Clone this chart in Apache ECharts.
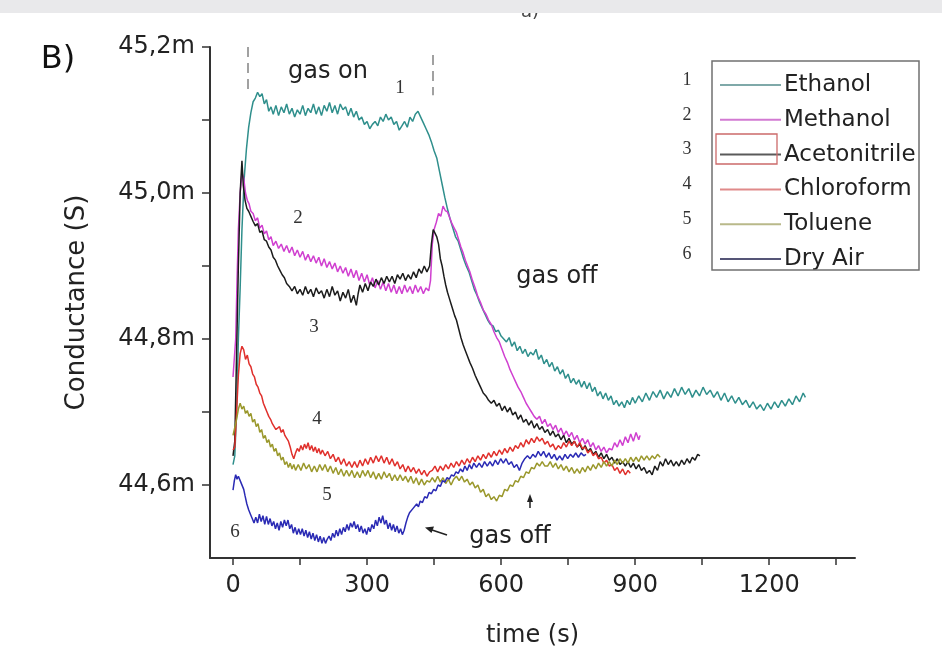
<!DOCTYPE html>
<html>
<head>
<meta charset="utf-8">
<script src="https://cdn.jsdelivr.net/npm/echarts@6/dist/echarts.min.js"></script>
<style>html,body{margin:0;padding:0;background:#fff;}#chart{width:942px;height:654px;}</style>
</head>
<body>
<div id="chart"></div>
<script>
// ---- data (time in s, conductance in mS) ----
const seriesNames = ['Ethanol','Methanol','Acetonitrile','Chloroform','Toluene','Dry Air'];
const xLabelValues = [0,300,600,900,1200];
const xTickValues = [0,150,300,450,600,750,900,1050,1200,1350];
const yLabelValues = [44.6,44.8,45.0,45.2];
const yTickValues = [44.6,44.7,44.8,44.9,45.0,45.1,45.2];
const gasMarks = [34,446];

const ethanolData = [[0,44.628],[4,44.64],[8,44.70],[12,44.80],[16,44.87],[20,44.95],[25,45.02],[30,45.06],[35,45.09],[40,45.11],[45,45.125],[50,45.13],[55,45.138],[60,45.132],[65,45.136],[70,45.122],[75,45.128],[80,45.112],[85,45.118],[90,45.108],[96,45.12],[102,45.106],[108,45.118],[114,45.11],[120,45.122],[126,45.108],[132,45.116],[138,45.104],[144,45.114],[150,45.108],[156,45.12],[162,45.106],[168,45.116],[174,45.11],[180,45.122],[186,45.108],[192,45.118],[198,45.106],[204,45.12],[210,45.112],[216,45.124],[222,45.11],[228,45.12],[234,45.108],[240,45.122],[246,45.114],[252,45.118],[258,45.106],[264,45.116],[270,45.104],[276,45.112],[282,45.1],[288,45.104],[294,45.094],[300,45.098],[306,45.088],[312,45.094],[318,45.098],[324,45.092],[330,45.104],[336,45.098],[342,45.108],[348,45.1],[354,45.104],[360,45.094],[366,45.098],[372,45.086],[378,45.092],[384,45.098],[390,45.09],[396,45.104],[402,45.098],[408,45.108],[414,45.112],[420,45.104],[426,45.096],[432,45.088],[438,45.08],[444,45.07],[450,45.058],[456,45.048],[462,45.03],[468,45.012],[474,44.994],[480,44.978],[486,44.964],[492,44.952],[498,44.94],[504,44.934],[510,44.922],[516,44.91],[522,44.9],[528,44.892],[534,44.88],[540,44.868],[546,44.86],[552,44.85],[558,44.842],[564,44.834],[570,44.826],[576,44.82],[582,44.818],[588,44.81],[594,44.812],[600,44.804],[606,44.8],[612,44.796],[618,44.802],[624,44.79],[630,44.796],[636,44.784],[642,44.79],[648,44.78],[654,44.786],[660,44.776],[666,44.782],[672,44.778],[678,44.786],[684,44.772],[690,44.778],[696,44.766],[702,44.772],[708,44.762],[714,44.768],[720,44.756],[726,44.762],[732,44.752],[738,44.758],[744,44.746],[750,44.752],[756,44.74],[762,44.746],[768,44.738],[774,44.744],[780,44.734],[786,44.742],[792,44.732],[798,44.74],[804,44.728],[810,44.734],[816,44.722],[822,44.728],[828,44.718],[834,44.726],[840,44.716],[846,44.722],[852,44.71],[858,44.716],[864,44.708],[870,44.714],[876,44.706],[882,44.716],[888,44.71],[894,44.72],[900,44.712],[908,44.722],[916,44.714],[924,44.726],[932,44.716],[940,44.728],[948,44.72],[956,44.73],[964,44.718],[972,44.728],[980,44.72],[988,44.732],[996,44.722],[1004,44.734],[1012,44.724],[1020,44.732],[1028,44.72],[1036,44.73],[1044,44.722],[1052,44.734],[1060,44.724],[1068,44.73],[1076,44.72],[1084,44.728],[1092,44.716],[1100,44.726],[1108,44.714],[1116,44.722],[1124,44.712],[1132,44.72],[1140,44.71],[1148,44.716],[1156,44.706],[1164,44.714],[1172,44.704],[1180,44.71],[1188,44.702],[1196,44.712],[1204,44.704],[1212,44.714],[1220,44.706],[1228,44.716],[1236,44.708],[1244,44.718],[1252,44.71],[1260,44.722],[1268,44.714],[1276,44.726],[1281,44.72]];

const methanolData = [[0,44.748],[3,44.75],[6,44.80],[9,44.88],[12,44.95],[16,45.0],[20,45.028],[24,45.02],[28,45.0],[32,44.99],[36,44.985],[40,44.975],[45,44.972],[50,44.962],[55,44.966],[60,44.952],[65,44.956],[70,44.944],[75,44.948],[80,44.936],[85,44.94],[90,44.928],[96,44.934],[102,44.924],[108,44.93],[114,44.92],[120,44.928],[126,44.918],[132,44.926],[138,44.914],[144,44.922],[150,44.912],[156,44.92],[162,44.908],[168,44.916],[174,44.906],[180,44.914],[186,44.904],[192,44.912],[198,44.9],[204,44.91],[210,44.898],[216,44.906],[222,44.896],[228,44.904],[234,44.892],[240,44.9],[246,44.89],[252,44.898],[258,44.886],[264,44.896],[270,44.884],[276,44.894],[282,44.88],[288,44.89],[294,44.878],[300,44.888],[306,44.874],[312,44.884],[318,44.87],[324,44.88],[330,44.868],[336,44.878],[342,44.866],[348,44.876],[354,44.864],[360,44.874],[366,44.862],[372,44.872],[378,44.862],[384,44.874],[390,44.864],[396,44.872],[402,44.862],[408,44.874],[414,44.864],[420,44.872],[426,44.862],[432,44.87],[438,44.866],[442,44.88],[446,44.93],[450,44.95],[455,44.96],[460,44.972],[465,44.968],[470,44.982],[475,44.976],[480,44.974],[485,44.966],[490,44.958],[495,44.952],[500,44.946],[505,44.936],[510,44.926],[515,44.918],[520,44.908],[525,44.9],[530,44.892],[536,44.88],[542,44.87],[548,44.858],[554,44.85],[560,44.84],[566,44.834],[572,44.826],[578,44.82],[584,44.81],[590,44.802],[596,44.796],[602,44.786],[608,44.776],[614,44.768],[620,44.758],[626,44.75],[632,44.742],[638,44.734],[644,44.728],[650,44.72],[656,44.712],[662,44.706],[668,44.7],[674,44.694],[680,44.69],[686,44.694],[692,44.684],[698,44.69],[704,44.68],[710,44.684],[716,44.676],[722,44.682],[728,44.672],[734,44.678],[740,44.668],[746,44.674],[752,44.666],[758,44.672],[764,44.662],[770,44.668],[776,44.658],[782,44.664],[788,44.656],[794,44.662],[800,44.652],[806,44.658],[812,44.648],[818,44.654],[824,44.646],[830,44.652],[836,44.644],[842,44.65],[848,44.648],[854,44.658],[860,44.652],[866,44.662],[872,44.654],[878,44.666],[884,44.658],[890,44.67],[896,44.66],[902,44.672],[908,44.662],[911,44.668]];

const acetonitrileData = [[0,44.64],[4,44.66],[8,44.78],[12,44.9],[16,45.0],[20,45.044],[23,45.01],[27,44.99],[31,44.979],[35,44.975],[40,44.968],[45,44.961],[50,44.955],[55,44.958],[60,44.946],[65,44.948],[70,44.936],[75,44.934],[80,44.926],[85,44.922],[90,44.912],[95,44.908],[100,44.9],[105,44.894],[110,44.888],[115,44.884],[120,44.876],[126,44.872],[132,44.866],[138,44.872],[144,44.862],[150,44.868],[156,44.86],[162,44.872],[168,44.862],[174,44.868],[180,44.858],[186,44.87],[192,44.862],[198,44.866],[204,44.856],[210,44.868],[216,44.858],[222,44.872],[228,44.86],[234,44.866],[240,44.852],[246,44.864],[252,44.856],[258,44.868],[264,44.85],[270,44.86],[276,44.846],[280,44.862],[284,44.874],[290,44.864],[296,44.876],[302,44.866],[308,44.878],[314,44.872],[320,44.882],[326,44.874],[332,44.884],[338,44.876],[344,44.886],[350,44.878],[356,44.886],[362,44.876],[368,44.888],[374,44.882],[380,44.89],[386,44.88],[392,44.888],[398,44.882],[404,44.892],[410,44.884],[416,44.896],[422,44.89],[428,44.9],[434,44.892],[440,44.9],[444,44.93],[448,44.95],[452,44.945],[456,44.94],[460,44.93],[464,44.91],[468,44.9],[472,44.886],[476,44.874],[480,44.864],[484,44.856],[488,44.848],[492,44.84],[496,44.832],[500,44.826],[505,44.814],[510,44.802],[515,44.792],[520,44.784],[525,44.776],[530,44.768],[536,44.76],[542,44.75],[548,44.742],[554,44.734],[560,44.726],[566,44.722],[572,44.716],[578,44.712],[584,44.716],[590,44.708],[596,44.712],[602,44.702],[608,44.708],[614,44.7],[620,44.706],[626,44.696],[632,44.7],[638,44.69],[644,44.696],[650,44.686],[656,44.69],[662,44.682],[668,44.688],[674,44.678],[680,44.684],[686,44.676],[692,44.68],[698,44.672],[704,44.676],[710,44.668],[716,44.674],[722,44.666],[728,44.67],[734,44.662],[740,44.668],[746,44.658],[752,44.664],[758,44.656],[764,44.66],[770,44.652],[776,44.656],[782,44.648],[788,44.654],[794,44.646],[800,44.65],[806,44.642],[812,44.646],[818,44.638],[824,44.644],[830,44.636],[836,44.642],[842,44.634],[848,44.638],[854,44.63],[860,44.636],[866,44.628],[872,44.632],[878,44.626],[884,44.632],[890,44.624],[896,44.63],[902,44.622],[908,44.628],[914,44.62],[920,44.624],[926,44.616],[932,44.62],[938,44.614],[944,44.626],[950,44.62],[956,44.632],[962,44.626],[968,44.636],[974,44.628],[980,44.634],[986,44.626],[992,44.632],[998,44.626],[1004,44.634],[1010,44.628],[1016,44.636],[1022,44.63],[1028,44.638],[1034,44.634],[1040,44.642],[1045,44.64]];

const chloroformData = [[0,44.648],[4,44.652],[8,44.7],[12,44.75],[16,44.78],[20,44.79],[24,44.785],[28,44.772],[32,44.778],[36,44.766],[40,44.762],[44,44.752],[48,44.748],[52,44.738],[56,44.734],[60,44.726],[64,44.722],[68,44.712],[72,44.706],[76,44.7],[80,44.694],[84,44.69],[88,44.684],[92,44.68],[96,44.676],[100,44.674],[104,44.68],[108,44.672],[112,44.676],[116,44.668],[120,44.666],[124,44.66],[128,44.652],[132,44.642],[136,44.636],[140,44.644],[144,44.65],[148,44.646],[152,44.654],[156,44.648],[160,44.656],[164,44.65],[168,44.658],[172,44.648],[176,44.654],[180,44.646],[184,44.652],[188,44.644],[192,44.65],[196,44.642],[200,44.648],[206,44.64],[212,44.646],[218,44.636],[224,44.642],[230,44.632],[236,44.638],[242,44.628],[248,44.636],[254,44.626],[260,44.632],[266,44.624],[272,44.632],[278,44.624],[284,44.634],[290,44.626],[296,44.636],[302,44.628],[308,44.638],[314,44.63],[320,44.64],[326,44.632],[332,44.64],[338,44.63],[344,44.638],[350,44.628],[356,44.636],[362,44.626],[368,44.632],[374,44.622],[380,44.628],[386,44.618],[392,44.626],[398,44.618],[404,44.624],[410,44.616],[416,44.622],[422,44.614],[428,44.62],[434,44.612],[440,44.618],[446,44.62],[452,44.626],[458,44.618],[464,44.626],[470,44.62],[476,44.628],[482,44.622],[488,44.63],[494,44.624],[500,44.632],[506,44.626],[512,44.634],[518,44.628],[524,44.636],[530,44.63],[536,44.638],[542,44.632],[548,44.64],[554,44.634],[560,44.642],[566,44.636],[572,44.644],[578,44.638],[584,44.646],[590,44.64],[596,44.648],[602,44.642],[608,44.65],[614,44.644],[620,44.652],[626,44.646],[632,44.654],[638,44.65],[644,44.658],[650,44.652],[656,44.662],[662,44.656],[668,44.664],[674,44.658],[680,44.666],[686,44.66],[692,44.664],[698,44.656],[704,44.66],[710,44.652],[716,44.656],[722,44.648],[728,44.654],[734,44.65],[740,44.658],[746,44.652],[752,44.66],[758,44.654],[764,44.66],[770,44.652],[776,44.658],[782,44.65],[788,44.652],[794,44.644],[800,44.648],[806,44.64],[812,44.644],[818,44.636],[824,44.638],[830,44.63],[836,44.634],[842,44.626],[848,44.628],[854,44.62],[860,44.624],[866,44.616],[872,44.622],[878,44.614],[884,44.62],[889,44.616]];

const tolueneData = [[0,44.668],[4,44.67],[8,44.69],[12,44.704],[16,44.712],[20,44.704],[24,44.708],[28,44.698],[32,44.702],[36,44.694],[40,44.698],[44,44.686],[48,44.69],[52,44.68],[56,44.684],[60,44.672],[64,44.676],[68,44.664],[72,44.668],[76,44.658],[80,44.662],[84,44.652],[88,44.656],[92,44.646],[96,44.65],[100,44.64],[104,44.644],[108,44.634],[112,44.638],[116,44.628],[120,44.632],[124,44.624],[128,44.63],[132,44.622],[136,44.628],[140,44.62],[146,44.628],[152,44.62],[158,44.63],[164,44.622],[170,44.628],[176,44.618],[182,44.626],[188,44.618],[194,44.628],[200,44.62],[206,44.628],[212,44.618],[218,44.626],[224,44.616],[230,44.624],[236,44.614],[242,44.622],[248,44.612],[254,44.62],[260,44.612],[266,44.62],[272,44.61],[278,44.618],[284,44.61],[290,44.62],[296,44.612],[302,44.62],[308,44.61],[314,44.618],[320,44.608],[326,44.616],[332,44.608],[338,44.618],[344,44.61],[350,44.616],[356,44.606],[362,44.614],[368,44.606],[374,44.614],[380,44.606],[386,44.612],[392,44.604],[398,44.612],[404,44.602],[410,44.61],[416,44.6],[422,44.608],[428,44.6],[434,44.606],[440,44.604],[446,44.61],[452,44.604],[458,44.612],[464,44.604],[470,44.61],[476,44.602],[482,44.608],[488,44.6],[494,44.608],[500,44.612],[506,44.606],[512,44.612],[518,44.604],[524,44.608],[530,44.6],[536,44.604],[542,44.596],[548,44.6],[554,44.59],[560,44.594],[566,44.584],[572,44.588],[578,44.58],[584,44.584],[590,44.578],[596,44.586],[602,44.584],[608,44.594],[614,44.592],[620,44.6],[626,44.598],[632,44.606],[638,44.604],[644,44.612],[650,44.61],[656,44.618],[662,44.616],[668,44.624],[674,44.622],[680,44.63],[686,44.626],[692,44.632],[698,44.626],[704,44.626],[710,44.632],[716,44.624],[722,44.63],[728,44.622],[734,44.628],[740,44.62],[746,44.626],[752,44.618],[758,44.624],[764,44.616],[770,44.622],[776,44.616],[782,44.624],[788,44.618],[794,44.626],[800,44.62],[806,44.628],[812,44.622],[818,44.63],[824,44.624],[830,44.632],[836,44.626],[842,44.632],[848,44.626],[854,44.634],[860,44.628],[866,44.636],[872,44.63],[878,44.636],[884,44.63],[890,44.638],[896,44.632],[902,44.638],[908,44.632],[914,44.64],[920,44.634],[926,44.64],[932,44.634],[938,44.64],[944,44.636],[950,44.642],[956,44.638]];

const dryAirData = [[0,44.593],[3,44.606],[6,44.614],[9,44.608],[12,44.612],[16,44.606],[20,44.607],[24,44.594],[27,44.585],[31,44.574],[35,44.566],[39,44.56],[43,44.554],[47,44.548],[51,44.556],[55,44.548],[59,44.56],[63,44.55],[67,44.558],[71,44.546],[75,44.557],[79,44.546],[83,44.554],[87,44.544],[91,44.55],[95,44.54],[99,44.548],[103,44.538],[107,44.55],[111,44.542],[115,44.552],[119,44.544],[123,44.552],[127,44.54],[131,44.546],[135,44.534],[139,44.542],[143,44.532],[147,44.54],[151,44.532],[155,44.54],[159,44.53],[163,44.538],[167,44.528],[171,44.536],[175,44.526],[179,44.534],[183,44.524],[187,44.532],[191,44.522],[195,44.53],[199,44.52],[203,44.528],[207,44.52],[211,44.526],[215,44.53],[219,44.524],[223,44.534],[227,44.528],[231,44.538],[235,44.53],[239,44.54],[243,44.532],[247,44.542],[251,44.536],[255,44.546],[259,44.538],[263,44.548],[267,44.542],[271,44.55],[275,44.54],[279,44.546],[283,44.536],[287,44.544],[291,44.534],[295,44.54],[299,44.532],[303,44.542],[307,44.536],[311,44.546],[315,44.54],[319,44.552],[323,44.544],[327,44.556],[331,44.548],[335,44.558],[339,44.546],[343,44.552],[347,44.54],[351,44.548],[355,44.538],[359,44.546],[363,44.536],[367,44.544],[371,44.534],[375,44.54],[379,44.532],[383,44.538],[387,44.548],[391,44.556],[395,44.562],[399,44.56],[403,44.568],[407,44.566],[411,44.574],[415,44.57],[419,44.578],[424,44.576],[429,44.584],[434,44.582],[439,44.59],[444,44.588],[449,44.594],[454,44.592],[459,44.6],[464,44.598],[469,44.606],[474,44.604],[479,44.61],[484,44.608],[489,44.614],[494,44.612],[499,44.618],[504,44.616],[509,44.622],[514,44.618],[519,44.626],[524,44.62],[529,44.628],[534,44.622],[539,44.63],[545,44.624],[551,44.63],[557,44.624],[563,44.632],[569,44.626],[575,44.632],[581,44.626],[587,44.634],[593,44.628],[599,44.636],[605,44.63],[611,44.636],[617,44.628],[623,44.632],[629,44.624],[635,44.628],[641,44.62],[647,44.63],[653,44.636],[659,44.64],[665,44.636],[671,44.642],[677,44.638],[683,44.646],[689,44.64],[695,44.646],[701,44.638],[707,44.644],[713,44.636],[719,44.642],[725,44.634],[731,44.64],[737,44.634],[743,44.642],[749,44.636],[755,44.642],[761,44.638],[767,44.644],[773,44.638],[779,44.644],[785,44.64],[790,44.642]];

const allData = [ethanolData, methanolData, acetonitrileData, chloroformData, tolueneData, dryAirData];
const lineColors = ['#2f8f8c','#d040d0','#1c1c1c','#e0302c','#9a982c','#2a2ab4'];
const legendColors = ['#7fa9a9','#d27ad2','#5a5a5a','#e08a8a','#b9b98a','#555577'];

// ---- chart ----
const chart = echarts.init(document.getElementById('chart'), null, {renderer:'canvas'});
const SANS = 'DejaVu Sans';
const SERIF = 'Liberation Serif';

const series = seriesNames.map((n,i) => ({
  name: n, type: 'line', data: allData[i], showSymbol: false, symbol: 'none',
  lineStyle: {color: lineColors[i], width: 1.5}, itemStyle: {color: lineColors[i]},
  z: 2 + i, silent: true, animation: false
}));
series[0].markLine = {
  silent: true, symbol: 'none', label: {show: false},
  lineStyle: {color: '#8a8a8a', type: [10,6], width: 1.6},
  data: [
    [{coord: [gasMarks[0], 45.2]}, {coord: [gasMarks[0], 45.141]}],
    [{coord: [gasMarks[1], 45.189]}, {coord: [gasMarks[1], 45.134]}]
  ]
};

function txt(x, y, s, size, family, color, extra) {
  return Object.assign({type:'text', x: x, y: y, silent: true, z: 50,
    style: {text: s, font: size + 'px "' + family + '"', fill: color || '#222', align: 'center', verticalAlign: 'middle'}}, extra || {});
}

const graphics = [
  {type:'rect', shape:{x:0, y:0, width:942, height:13}, style:{fill:'#e9e9eb'}, z: 60, silent: true},
  txt(530, 12, 'a)', 18, SANS, '#444'),
  txt(58, 60, 'B)', 32, SANS, '#111'),
  txt(328, 72, 'gas on', 24, SANS, '#222'),
  txt(557, 277, 'gas off', 24, SANS, '#222'),
  txt(510, 537, 'gas off', 24, SANS, '#222'),
  txt(400, 88, '1', 19, SERIF, '#333'),
  txt(298, 218, '2', 19, SERIF, '#333'),
  txt(314, 327, '3', 19, SERIF, '#333'),
  txt(317, 419, '4', 19, SERIF, '#333'),
  txt(327, 495, '5', 19, SERIF, '#333'),
  txt(235, 532, '6', 19, SERIF, '#333'),
  // arrows
  {type:'line', shape:{x1:447, y1:535, x2:432, y2:530}, style:{stroke:'#222', lineWidth:1.5}, z:50, silent:true},
  {type:'polygon', shape:{points:[[425,527.5],[434,526.5],[431.5,533]]}, style:{fill:'#222'}, z:50, silent:true},
  {type:'line', shape:{x1:530, y1:508, x2:530, y2:500}, style:{stroke:'#222', lineWidth:1.5}, z:50, silent:true},
  {type:'polygon', shape:{points:[[530,494],[527,502],[533,502]]}, style:{fill:'#222'}, z:50, silent:true},
  // legend box
  {type:'rect', shape:{x:712, y:61, width:207, height:209}, style:{fill:'none', stroke:'#707070', lineWidth:1.5}, z:40, silent:true},
  {type:'rect', shape:{x:716, y:134, width:61, height:30}, style:{fill:'none', stroke:'#cc6a6a', lineWidth:1.3}, z:41, silent:true}
];
const legendYs = [80, 115, 149.5, 184.5, 219, 254];
legendYs.forEach((y,i) => graphics.push(txt(687, y, String(i+1), 18, SERIF, '#333')));

const option = {
  backgroundColor: '#ffffff',
  animation: false,
  grid: {left: 210, right: 87, top: 47, bottom: 96, containLabel: false, outerBoundsMode: 'none'},
  legend: {
    show: true, orient: 'vertical', left: 715, top: 68,
    itemWidth: 61, itemHeight: 2, itemGap: 10.8, icon: 'rect',
    selectedMode: false,
    textStyle: {fontFamily: SANS, fontSize: 23, color: '#222', lineHeight: 24, padding: [0,0,0,-2]},
    data: seriesNames.map((n,i) => ({name: n, itemStyle: {color: legendColors[i]}}))
  },
  xAxis: {
    type: 'value', min: -51.5, max: 1392,
    name: 'time (s)', nameLocation: 'middle', nameGap: 66,
    nameTextStyle: {fontFamily: SANS, fontSize: 24, color: '#222'},
    axisLine: {onZero: false, lineStyle: {color: '#333', width: 2}},
    axisTick: {show: true, customValues: xTickValues, length: 7, lineStyle: {color: '#333', width: 1.5}},
    axisLabel: {customValues: xLabelValues, margin: 16, fontFamily: SANS, fontSize: 24, color: '#222',
      formatter: v => String(Math.round(v))},
    splitLine: {show: false}
  },
  yAxis: {
    type: 'value', min: 44.5, max: 45.2,
    name: 'Conductance (S)', nameLocation: 'middle', nameGap: 120,
    nameTextStyle: {fontFamily: SANS, fontSize: 26, color: '#222'},
    axisLine: {onZero: false, lineStyle: {color: '#333', width: 2}},
    axisTick: {show: true, customValues: yTickValues, length: 8, lineStyle: {color: '#333', width: 1.5}},
    axisLabel: {customValues: yLabelValues, margin: 15, fontFamily: SANS, fontSize: 24, color: '#222',
      formatter: v => v.toFixed(1).replace('.', ',') + 'm'},
    splitLine: {show: false}
  },
  graphic: graphics,
  series: series
};
chart.setOption(option);
</script>
</body>
</html>
